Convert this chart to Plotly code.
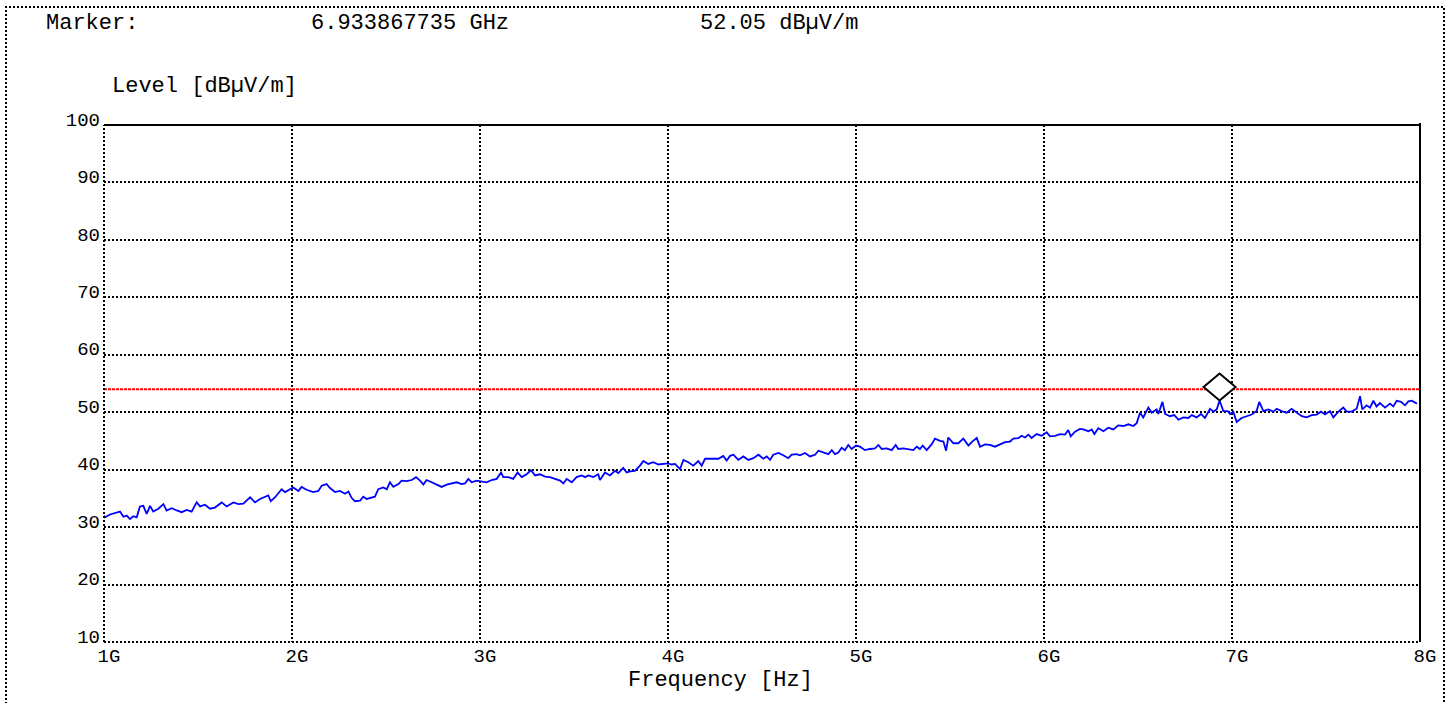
import plotly.graph_objects as go

# ---------------- data ----------------
FREQ_GHZ = [
    1.000, 1.005, 1.032, 1.059, 1.085, 1.103, 1.121, 1.138, 1.156, 1.174, 1.191, 1.209, 1.227, 1.245,
    1.262, 1.289, 1.316, 1.333, 1.360, 1.387, 1.413, 1.440, 1.466, 1.493, 1.511, 1.537, 1.564, 1.590,
    1.626, 1.652, 1.688, 1.715, 1.741, 1.777, 1.803, 1.830, 1.856, 1.874, 1.887, 1.910, 1.945, 1.963,
    1.989, 2.007, 2.034, 2.051, 2.078, 2.113, 2.140, 2.158, 2.184, 2.202, 2.229, 2.255, 2.282, 2.300,
    2.317, 2.335, 2.362, 2.379, 2.397, 2.424, 2.441, 2.459, 2.486, 2.504, 2.521, 2.539, 2.566, 2.583,
    2.610, 2.637, 2.660, 2.681, 2.699, 2.716, 2.734,
    2.743, 2.770, 2.796, 2.823, 2.849, 2.876, 2.902, 2.920, 2.938, 2.956, 2.982, 3.009, 3.035, 3.062,
    3.089, 3.112, 3.124, 3.151, 3.177, 3.200, 3.222, 3.248, 3.271, 3.293, 3.319, 3.346, 3.372, 3.399,
    3.426, 3.443, 3.461, 3.488, 3.514, 3.541, 3.559, 3.576, 3.603, 3.629, 3.638, 3.665, 3.691, 3.718,
    3.736, 3.762, 3.780, 3.798, 3.824, 3.851, 3.869, 3.895, 3.922, 3.949, 3.975, 3.998, 4.020, 4.037,
    4.064, 4.082, 4.108, 4.135, 4.161, 4.179, 4.197, 4.232, 4.268, 4.294, 4.312, 4.330, 4.348, 4.374,
    4.401, 4.427, 4.454,
    4.481, 4.507, 4.525, 4.543, 4.560, 4.587, 4.613, 4.640, 4.658, 4.684, 4.702, 4.729, 4.755, 4.782,
    4.800, 4.826, 4.853, 4.871, 4.888, 4.906, 4.924, 4.941, 4.959, 4.977, 5.000, 5.021, 5.048, 5.074,
    5.101, 5.119, 5.137, 5.163, 5.190, 5.211, 5.225, 5.252, 5.278, 5.305, 5.323, 5.340, 5.355, 5.376,
    5.402, 5.420, 5.447, 5.465, 5.479, 5.491, 5.518, 5.544, 5.571, 5.598, 5.615, 5.642, 5.660, 5.686,
    5.713, 5.739, 5.766, 5.793, 5.819, 5.837, 5.864, 5.881, 5.899, 5.917, 5.934, 5.961, 5.988, 6.014,
    6.032, 6.059, 6.085, 6.112, 6.129, 6.142, 6.165, 6.191,
    6.209, 6.236, 6.254, 6.268, 6.289, 6.316, 6.342, 6.369, 6.395, 6.422, 6.449, 6.475, 6.493, 6.511,
    6.528, 6.555, 6.573, 6.599, 6.608, 6.630, 6.644, 6.670, 6.693, 6.715, 6.741, 6.768, 6.786, 6.812,
    6.835, 6.856, 6.883, 6.901, 6.919, 6.933867735, 6.954, 6.977, 6.989, 7.007, 7.025, 7.051, 7.078,
    7.105, 7.131, 7.145, 7.167, 7.193, 7.220, 7.238, 7.264, 7.291, 7.317, 7.344, 7.371, 7.397, 7.424,
    7.450, 7.473, 7.495, 7.521, 7.539, 7.566, 7.592, 7.610, 7.637, 7.663, 7.681, 7.693, 7.716, 7.734,
    7.752, 7.769, 7.787, 7.814, 7.840, 7.858, 7.876, 7.899, 7.920, 7.938, 7.956, 7.973, 7.984,
]

LEVEL_DBUV = [
    32.0, 31.7, 32.2, 32.4, 32.7, 31.8, 32.0, 31.4, 31.9, 31.7, 33.6, 33.7, 32.3, 33.7,
    32.7, 33.2, 34.0, 32.9, 33.3, 32.9, 32.6, 33.0, 32.7, 34.3, 33.6, 33.9, 33.2, 33.4,
    34.3, 33.6, 34.3, 34.0, 34.1, 35.2, 34.3, 34.9, 35.2, 35.5, 34.5, 35.2, 36.6, 36.1,
    36.6, 36.9, 36.3, 37.0, 36.5, 36.1, 36.3, 37.2, 37.5, 36.8, 36.1, 36.3, 35.8, 36.2,
    35.1, 34.5, 34.6, 35.3, 34.9, 35.2, 35.3, 36.6, 36.9, 36.6, 37.8, 37.0, 37.5, 38.1,
    38.0, 38.2, 38.7, 38.1, 37.4, 38.2, 38.0,
    37.8, 37.4, 37.0, 37.4, 37.6, 37.8, 37.5, 37.6, 38.4, 37.8, 38.1, 38.0, 37.8, 38.2,
    38.4, 39.5, 38.7, 38.7, 38.4, 39.5, 38.7, 39.2, 39.9, 39.0, 39.2, 38.8, 38.7, 38.4,
    38.1, 37.6, 38.4, 37.8, 38.7, 39.0, 38.7, 39.0, 38.7, 39.2, 38.2, 39.5, 39.0, 39.8,
    39.4, 40.3, 39.5, 39.7, 39.8, 40.7, 41.5, 41.0, 41.3, 40.9, 41.0, 41.1, 40.9, 41.0,
    40.1, 41.7, 41.3, 40.7, 41.5, 40.7, 41.9, 41.9, 41.9, 42.4, 41.6, 42.4, 42.6, 41.7,
    42.3, 41.7, 42.0,
    42.6, 41.9, 42.3, 41.7, 42.6, 42.9, 42.5, 42.0, 42.6, 42.7, 42.5, 42.9, 42.3, 42.6,
    43.3, 43.0, 42.7, 43.4, 42.7, 43.0, 43.8, 43.4, 44.3, 43.6, 44.2, 44.0, 43.4, 43.6,
    43.7, 44.3, 43.6, 43.7, 43.4, 44.3, 43.6, 43.7, 43.6, 43.4, 44.0, 43.6, 44.2, 43.4,
    44.4, 45.4, 45.0, 44.9, 43.3, 45.6, 44.6, 44.6, 45.4, 44.2, 44.8, 45.5, 44.0, 44.4,
    44.3, 44.0, 44.4, 44.8, 44.9, 45.4, 45.5, 45.9, 45.6, 46.1, 45.5, 46.2, 45.9, 46.5,
    45.8, 45.9, 46.2, 46.1, 46.9, 45.8, 46.6, 47.1,
    47.0, 46.7, 47.0, 46.2, 47.2, 46.7, 47.3, 47.0, 47.7, 47.6, 47.9, 47.6, 48.1, 49.9,
    49.1, 50.8, 49.9, 50.5, 49.7, 51.8, 49.7, 49.3, 49.5, 48.7, 49.1, 49.0, 49.5, 49.1,
    49.7, 49.0, 50.6, 50.1, 50.5, 52.05, 50.2, 50.2, 49.7, 50.1, 48.3, 49.0, 49.3,
    49.6, 50.2, 51.8, 50.2, 50.5, 50.1, 50.6, 50.2, 49.9, 50.6, 49.9, 49.3, 49.1, 49.5,
    49.6, 50.1, 49.6, 50.2, 49.1, 50.1, 50.8, 50.1, 50.1, 50.6, 52.8, 50.5, 51.2, 50.8,
    52.0, 51.0, 51.6, 50.8, 51.5, 51.0, 52.0, 51.8, 51.2, 51.9, 52.0, 51.6, 51.5,
]

LIMIT_DBUV = 54.0
MARKER_FREQ_GHZ = 6.933867735
MARKER_LEVEL = 52.05

X_TICKS = [1, 2, 3, 4, 5, 6, 7, 8]
X_TICK_LABELS = ["1G", "2G", "3G", "4G", "5G", "6G", "7G", "8G"]
Y_TICKS = [10, 20, 30, 40, 50, 60, 70, 80, 90, 100]
Y_TICK_LABELS = ["10", "20", "30", "40", "50", "60", "70", "80", "90", "100"]

MARKER_TITLE = "Marker:"
MARKER_FREQ_TEXT = "6.933867735 GHz"
MARKER_LEVEL_TEXT = "52.05 dBµV/m"
Y_TITLE = "Level [dBµV/m]"
X_TITLE = "Frequency [Hz]"

# ---------------- layout geometry ----------------
W, H = 1452, 703
L, R, T, B = 104, 32, 125, 61
PW, PH = W - L - R, H - T - B
FONT = "Liberation Mono"


def px_x(px):
    return (px - L) / PW


def px_y(py):
    return (H - B - py) / PH


fig = go.Figure()

fig.add_trace(go.Scatter(
    x=[X_TICKS[0], X_TICKS[-1]], y=[LIMIT_DBUV, LIMIT_DBUV], mode="lines",
    line=dict(color="#ff0000", width=2, dash="3px,1px"), hoverinfo="skip", showlegend=False,
))
fig.add_trace(go.Scatter(
    x=FREQ_GHZ, y=LEVEL_DBUV, mode="lines",
    line=dict(color="#0000ff", width=1.8), showlegend=False,
))

grid_dash = "2px,2px"
fig.update_xaxes(
    range=[X_TICKS[0], X_TICKS[-1]], tickvals=X_TICKS, ticktext=X_TICK_LABELS,
    showgrid=True, gridcolor="black", gridwidth=2, griddash=grid_dash,
    zeroline=False, showline=False, ticks="",
    tickfont=dict(family=FONT, size=19, color="black"),
    ticklabelshift=5, ticklabelstandoff=0,
)
fig.update_yaxes(
    range=[Y_TICKS[0], Y_TICKS[-1]], tickvals=Y_TICKS, ticktext=Y_TICK_LABELS,
    showgrid=True, gridcolor="black", gridwidth=2, griddash=grid_dash,
    zeroline=False, showline=False, ticks="",
    tickfont=dict(family=FONT, size=19, color="black"),
    ticklabelshift=-6, ticklabelstandoff=3,
)

shapes = [
    # plot frame: left/bottom dotted, top/right solid
    dict(type="line", xref="paper", yref="paper", x0=0, x1=0, y0=0, y1=1,
         line=dict(color="black", width=2, dash=grid_dash)),
    dict(type="line", xref="paper", yref="paper", x0=0, x1=1, y0=0, y1=0,
         line=dict(color="black", width=2, dash=grid_dash)),
    dict(type="line", xref="paper", yref="paper", x0=0, x1=px_x(1421), y0=1, y1=1,
         line=dict(color="black", width=2)),
    dict(type="line", xref="paper", yref="paper", x0=1, x1=1, y0=0, y1=px_y(123),
         line=dict(color="black", width=2)),
    # outer dotted border
    dict(type="rect", xref="paper", yref="paper",
         x0=px_x(6), x1=px_x(1444), y0=px_y(712), y1=px_y(7),
         line=dict(color="black", width=2, dash=grid_dash), layer="above"),
    # marker diamond sitting on the marker point
    dict(type="path", xref="x", yref="y", xsizemode="pixel", ysizemode="pixel",
         xanchor=MARKER_FREQ_GHZ, yanchor=MARKER_LEVEL,
         path="M 0 0 L 16 13.5 L 0 27 L -16 13.5 Z",
         line=dict(color="black", width=2), fillcolor="white", layer="above"),
]

ann_font = dict(family=FONT, size=22, color="black")
annotations = [
    dict(text=MARKER_TITLE, x=px_x(92), y=px_y(24)),
    dict(text=MARKER_FREQ_TEXT, x=px_x(410), y=px_y(24)),
    dict(text=MARKER_LEVEL_TEXT, x=px_x(779), y=px_y(24)),
    dict(text=Y_TITLE, x=px_x(204), y=px_y(86)),
    dict(text=X_TITLE, x=px_x(720), y=px_y(680)),
]
annotations = [dict(a, xref="paper", yref="paper", xanchor="center", yanchor="middle",
                    showarrow=False, font=ann_font) for a in annotations]

fig.update_layout(
    width=W, height=H,
    margin=dict(l=L, r=R, t=T, b=B, pad=0),
    paper_bgcolor="white", plot_bgcolor="white",
    shapes=shapes, annotations=annotations,
    showlegend=False,
)

fig.write_html("out.html", config={"displayModeBar": False})
